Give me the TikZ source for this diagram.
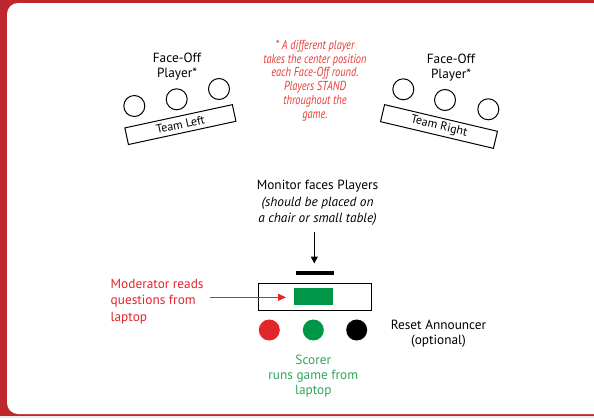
\documentclass[tikz,border=0pt]{standalone}
\usepackage{fontspec}
\setmainfont{PT Sans}
\newfontfamily\notefont[FakeStretch=0.8]{PT Sans}
\usetikzlibrary{arrows.meta}
\definecolor{bgred}{RGB}{190,40,44}
\definecolor{txtred}{RGB}{226,38,42}
\definecolor{notered}{RGB}{232,60,56}
\definecolor{lapgreen}{RGB}{0,150,72}
\definecolor{scgreen}{RGB}{50,165,90}
\tikzset{
  seat/.style={draw=black, line width=1pt, circle, minimum size=21pt, inner sep=0pt},
  teambox/.style={draw=black, line width=1pt, rectangle, inner sep=0pt, font=\fontsize{12}{14}\selectfont},
  lbl/.style={align=center, font=\fontsize{13.3}{16.5}\selectfont, inner sep=0pt},
  note/.style={align=center, text=notered, font=\notefont\itshape\fontsize{13}{13.7}\selectfont, inner sep=0pt},
  dot/.style={circle, minimum size=21pt, inner sep=0pt},
}
\begin{document}
\begin{tikzpicture}[x=1pt,y=-1pt]
\useasboundingbox (0,0) rectangle (594,418);
\fill[black!8] (0,0) rectangle (594,418);
\fill[bgred] (0,0) rectangle (594,416);
\fill[white, rounded corners=11pt] (7,3) rectangle (610,414);

% left team
\node[lbl, font=\fontsize{13.3}{15}\selectfont] (flL) at (177,66.5) {Face-Off\\Player*};
\node[seat] (l1) at (134.3,106) {};
\node[seat] (l2) at (176.7,99.3) {};
\node[seat] (l3) at (219,89) {};
\node[teambox, minimum width=110pt, minimum height=17pt, rotate=12.2] (tl) at (180.4,124.6) {Team Left};

% right team
\node[lbl, font=\fontsize{13.3}{15}\selectfont] (flR) at (451,68) {Face-Off\\Player*};
\node[seat] (r1) at (403.3,89.3) {};
\node[seat] (r2) at (445,100) {};
\node[seat] (r3) at (488.3,109.3) {};
\node[teambox, minimum width=116pt, minimum height=17.5pt, rotate=-13.3] (tr) at (439,126.5) {Team Right};

% note
\node[note] (nt) at (315,80.5) {* A different player\\takes the center position\\each Face-Off round.\\Players STAND\\throughout the\\game.};

% monitor
\node[lbl] (mon) at (317.5,203) {Monitor faces Players\\\itshape (should be placed on\\\itshape a chair or small table)};
\coordinate (arS) at (314.3,231.5);
\node[fill=black, minimum width=38pt, minimum height=4pt, inner sep=0pt] (bar) at (314.5,272.5) {};
\draw[line width=1.1pt, -{Triangle[length=7pt,width=7pt]}] (arS) -- (314.3,263.5);

% laptop
\node[draw=black, line width=1pt, minimum width=113.4pt, minimum height=26.7pt, inner sep=0pt] (lap) at (315,296.7) {};
\node[fill=lapgreen, minimum width=38.4pt, minimum height=16.7pt, inner sep=0pt] (scr) at (313.5,296.7) {};

% moderator
\node[lbl, align=left, text=txtred, anchor=west] (mod) at (110.5,301.5) {Moderator reads\\questions from\\laptop};
\coordinate (mA) at (210,297.3);
\draw[txtred, line width=1.1pt, -{Triangle[length=8pt,width=7pt]}] (mA) -- (286,297.3);

% people
\node[dot, fill=txtred] (pr) at (269.3,330) {};
\node[dot, fill=lapgreen] (pg) at (313.3,330) {};
\node[dot, fill=black] (pb) at (356.7,330) {};

\node[lbl, font=\fontsize{13.3}{15}\selectfont] (reset) at (438.5,334) {Reset Announcer\\(optional)};
\node[lbl, text=scgreen, font=\fontsize{13.3}{15}\selectfont] (sc) at (313.3,376.5) {Scorer\\runs game from\\laptop};
\end{tikzpicture}
\end{document}
